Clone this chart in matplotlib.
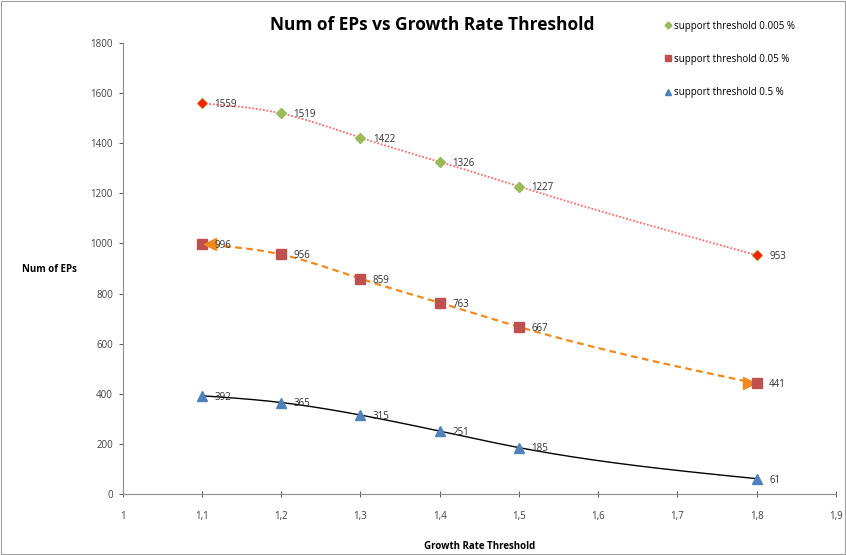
import numpy as np
import matplotlib
matplotlib.use("Agg")
import matplotlib.pyplot as plt
import matplotlib.transforms as mtransforms
from matplotlib.patches import Rectangle

plt.rcParams['font.family'] = ['Open Sans', 'DejaVu Sans']

# data
growth = [1.1, 1.2, 1.3, 1.4, 1.5, 1.8]
eps_0005 = [1559, 1519, 1422, 1326, 1227, 953]
eps_005 = [996, 956, 859, 763, 667, 441]
eps_05 = [392, 365, 315, 251, 185, 61]
labels = ["support threshold 0.005 %", "support threshold 0.05 %", "support threshold 0.5 %"]
xticks = [1.0, 1.1, 1.2, 1.3, 1.4, 1.5, 1.6, 1.7, 1.8, 1.9]
yticks = list(range(0, 1801, 200))


def smooth(xs, ys, n=300):
    # spline cubico natural para imitar el suavizado de Excel
    x = np.asarray(xs, float)
    y = np.asarray(ys, float)
    k = len(x)
    h = np.diff(x)
    A = np.zeros((k, k))
    b = np.zeros(k)
    A[0, 0] = A[-1, -1] = 1
    for i in range(1, k - 1):
        A[i, i - 1] = h[i - 1]
        A[i, i] = 2 * (h[i - 1] + h[i])
        A[i, i + 1] = h[i]
        b[i] = 6 * ((y[i + 1] - y[i]) / h[i] - (y[i] - y[i - 1]) / h[i - 1])
    m = np.linalg.solve(A, b)
    xx = np.linspace(x[0], x[-1], n)
    idx = np.clip(np.searchsorted(x, xx) - 1, 0, k - 2)
    x0, x1, y0, y1 = x[idx], x[idx + 1], y[idx], y[idx + 1]
    m0, m1, hh = m[idx], m[idx + 1], h[idx]
    t1 = x1 - xx
    t0 = xx - x0
    yy = (m0 * t1 ** 3 + m1 * t0 ** 3) / (6 * hh) + (y0 / hh - m0 * hh / 6) * t1 + (y1 / hh - m1 * hh / 6) * t0
    return xx, yy


fig = plt.figure(figsize=(8.46, 5.55), dpi=100)
ax = fig.add_axes([0.145, 0.110, 0.843, 0.8125])
fig.patches.append(Rectangle((0.001, 0.001), 0.998, 0.998, transform=fig.transFigure,
                             fill=False, edgecolor="#a0a0a0", lw=0.8))

# lineas suavizadas
sx, sy = smooth(growth, eps_0005)
ax.plot(sx, sy, color="#ff6a6a", lw=1.3, ls=(0, (1, 1)), zorder=2)
sx, sy = smooth(growth, eps_005)
ax.plot(sx, sy, color="#f08a1c", lw=1.6, ls=(0, (3, 2)), zorder=2)
sx, sy = smooth(growth, eps_05)
ax.plot(sx, sy, color="black", lw=1.0, zorder=2)

# marcadores
ax.plot(growth, eps_0005, ls="none", marker="D", ms=5, color="#9bbb59", zorder=3, label=labels[0])
ax.plot(growth, eps_005, ls="none", marker="s", ms=7, color="#c0504d", zorder=3, label=labels[1])
ax.plot(growth, eps_05, ls="none", marker="^", ms=7, color="#4f81bd", zorder=3, label=labels[2])

# extremos raros de la serie roja y naranja
ax.plot([growth[0], growth[-1]], [eps_0005[0], eps_0005[-1]], ls="none", marker="D",
        ms=4, color="#ff2000", zorder=4)
off_r = mtransforms.offset_copy(ax.transData, fig=fig, x=8, y=0, units="dots")
off_l = mtransforms.offset_copy(ax.transData, fig=fig, x=-8, y=0, units="dots")
ax.plot([growth[0]], [eps_005[0]], ls="none", marker="<", ms=8, color="#f08a1c",
        transform=off_r, zorder=4)
ax.plot([growth[-1]], [eps_005[-1]], ls="none", marker=">", ms=8, color="#f08a1c",
        transform=off_l, zorder=2)

# etiquetas de datos
for ys in [eps_0005, eps_005, eps_05]:
    for x, y in zip(growth, ys):
        ax.annotate(str(y), (x, y), xytext=(9, -1), textcoords="offset points",
                    ha="left", va="center", fontsize=7, color="#303030", zorder=5)

ax.set_xlim(1.0, 1.9)
ax.set_ylim(0, 1800)
ax.set_xticks(xticks)
ax.set_xticklabels([("%g" % v).replace(".", ",") for v in xticks])
ax.set_yticks(yticks)
ax.tick_params(axis="both", labelsize=7, colors="#404040", length=3, width=0.6)
ax.tick_params(axis="x", direction="inout", pad=10, length=4)
ax.tick_params(axis="y", pad=4)
for s in ["top", "right"]:
    ax.spines[s].set_visible(False)
for s in ["left", "bottom"]:
    ax.spines[s].set_color("#8c8c8c")
    ax.spines[s].set_linewidth(0.8)

ax.set_xlabel("Growth Rate Threshold", fontsize=7, fontweight="bold", labelpad=14)
fig.text(0.058, 0.515, "Num of EPs", fontsize=7, fontweight="bold", ha="center", va="center")
fig.text(0.511, 0.955, "Num of EPs vs Growth Rate Threshold", fontsize=12.5, fontweight="bold",
         ha="center", va="center")

leg = fig.legend(loc="upper left", bbox_to_anchor=(0.785, 0.963), frameon=False, fontsize=7,
                 handlelength=0.7, handletextpad=0.3, labelspacing=2.3, borderaxespad=0,
                 borderpad=0, markerscale=0.7)

fig.savefig("out.png", dpi=100)
